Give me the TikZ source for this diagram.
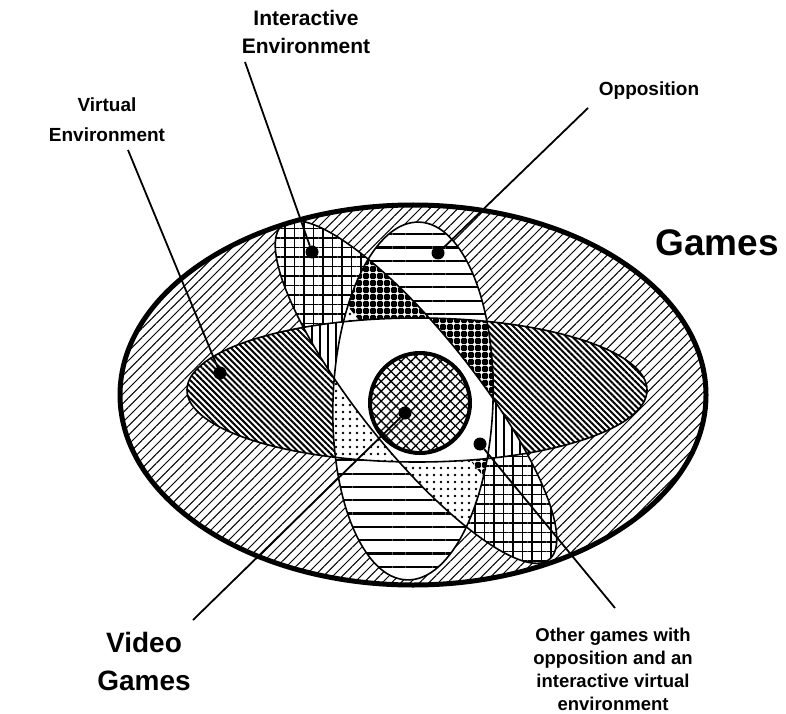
\documentclass[tikz,border=0pt]{standalone}
\usepackage{fontspec}
\setmainfont{Liberation Sans}
\usetikzlibrary{patterns.meta}

\newcommand\gamesrim{(413,318) ellipse [x radius=293, y radius=190]}
\newcommand\virtrim{(417,323) ellipse [x radius=230, y radius=72]}
\newcommand\interrim{(416,321) ellipse [x radius=214, y radius=58]}
\newcommand\opporim{(413,312) ellipse [x radius=80, y radius=179]}

\begin{document}
\begin{tikzpicture}[x=1pt, y=1pt,
    inturn/.style={rotate around={-51.5:(416,321)}},
    opturn/.style={rotate around={-2:(413,312)}},
    gamespat/.style={pattern={Lines[angle=45,distance=6.6pt,line width=1pt]}},
    virtpat/.style={pattern={Lines[angle=-45,distance=4.3pt,line width=2pt]}},
    interpat/.style={pattern={Hatch[distance=9.5pt,line width=1.3pt]}},
    oppopat/.style={pattern={Lines[distance=13.3pt,line width=2.2pt]}},
    bothpat/.style={pattern={Lines[angle=90,distance=8pt,line width=1.8pt]}},
    lightdots/.style={pattern={Dots[distance=7pt,radius=1.4pt]}},
    darkdots/.style={pattern={Hatch[distance=6.5pt,line width=4.4pt]}},
    videopat/.style={pattern={Hatch[angle=45,distance=7pt,line width=1.3pt]}},
    rim/.style={line width=1.6pt},
    pin/.style={circle, fill, inner sep=0pt, minimum size=13pt},
    leader/.style={line width=1.8pt},
    lbl/.style={align=center, inner sep=0pt, font=\bfseries\fontsize{19}{28}\selectfont}]
\useasboundingbox (0,0) rectangle (786,713);

\path[gamespat] \gamesrim;
\fill[white] \virtrim;
\path[virtpat] \virtrim;
\fill[white, inturn] \interrim;
\path[inturn, interpat] \interrim;
\fill[white, opturn] \opporim;
\path[opturn, oppopat] \opporim;

\begin{scope}
  \clip \virtrim;
  \fill[white, inturn] \interrim;
  \path[inturn, bothpat] \interrim;
\end{scope}
\begin{scope}
  \clip[opturn] \opporim;
  \fill[white] \virtrim;
  \fill[white, inturn] \interrim;
  \path[lightdots] \virtrim;
  \path[inturn, lightdots] \interrim;
  \clip[inturn] (-84,321) rectangle (916,821);
  \fill[white] \virtrim;
  \fill[white, inturn] \interrim;
  \path[darkdots] \virtrim;
  \path[inturn, darkdots] \interrim;
\end{scope}
\begin{scope}
  \clip \virtrim;
  \clip[inturn] \interrim;
  \fill[white, opturn] \opporim;
\end{scope}

\draw[rim] \virtrim;
\draw[rim, inturn] \interrim;
\draw[rim, opturn] \opporim;
\draw[line width=5pt] \gamesrim;

\node[circle, minimum size=100pt, inner sep=0pt, preaction={fill=white}, videopat, draw, line width=4pt] (vgring) at (420,310) {};

\node[pin] (dotIE) at (312,461) {};
\node[pin] (dotOpp) at (438,460) {};
\node[pin] (dotVE) at (220,340) {};
\node[pin] (dotVG) at (405,300) {};
\node[pin] (dotOther) at (480,269) {};

\node[lbl, font=\bfseries\fontsize{21}{28}\selectfont] (lblIE) at (306,681) {Interactive\\Environment};
\node[lbl] (lblOpp) at (649,622) {Opposition};
\node[lbl, font=\bfseries\fontsize{19}{30}\selectfont] (lblVE) at (107,593) {Virtual\\Environment};
\node[lbl, font=\bfseries\fontsize{37}{44}\selectfont] (lblGames) at (717,470) {Games};
\node[lbl, font=\bfseries\fontsize{28}{38}\selectfont] (lblVG) at (144,52) {Video\\Games};
\node[lbl, font=\bfseries\fontsize{18.5}{23}\selectfont] (lblOther) at (613,44) {Other games with\\opposition and an\\interactive virtual\\environment};

\coordinate (endIE) at (245,651);
\coordinate (endOpp) at (588,605);
\coordinate (endVE) at (128,563);
\coordinate (endVG) at (193,93);
\coordinate (endOther) at (615,105);

\draw[leader] (endIE) -- (dotIE);
\draw[leader] (endOpp) -- (dotOpp);
\draw[leader] (endVE) -- (dotVE);
\draw[leader] (endVG) -- (dotVG);
\draw[leader] (endOther) -- (dotOther);
\end{tikzpicture}
\end{document}
